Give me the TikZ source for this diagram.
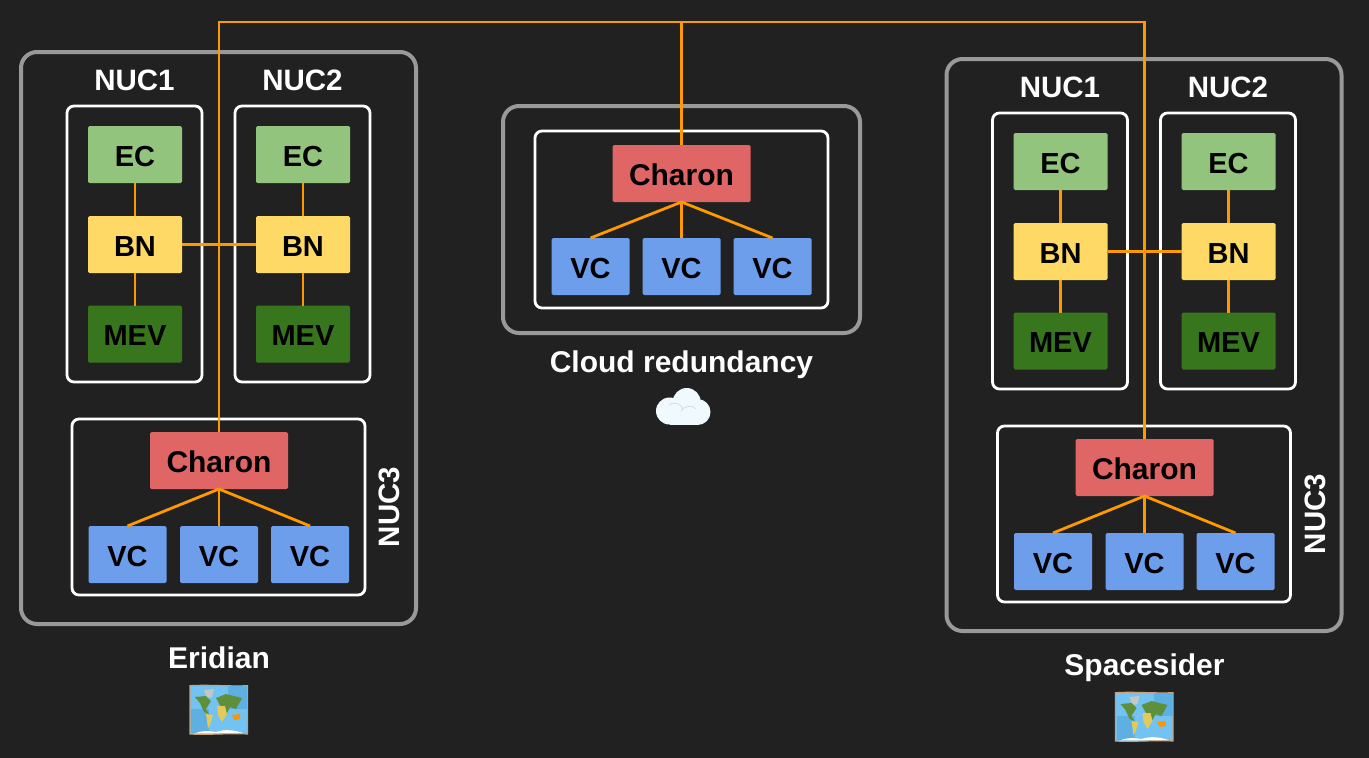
\documentclass[tikz,border=0pt]{standalone}
\usepackage{fontspec}
\setmainfont{Liberation Sans}
\usetikzlibrary{calc}
\definecolor{bgdark}{HTML}{212121}
\definecolor{wire}{HTML}{FF9900}
\definecolor{panelgray}{HTML}{999999}
\definecolor{ecgreen}{HTML}{93C47D}
\definecolor{bnyellow}{HTML}{FFD966}
\definecolor{mevgreen}{HTML}{38761D}
\definecolor{charonred}{HTML}{E06666}
\definecolor{vcblue}{HTML}{6D9EEB}
\definecolor{mapsky}{HTML}{72C2F2}
\definecolor{mapfold}{HTML}{5FB0E2}
\definecolor{mapedge}{HTML}{C8A27E}
\definecolor{mapland}{HTML}{5E8F3A}
\definecolor{mapsand}{HTML}{E3C95A}
\tikzset{
    block/.style={rounded corners=1.5pt, inner sep=0pt, outer sep=0pt, text=black, text height=23pt, text depth=0pt, font=\bfseries\fontsize{29}{29}\selectfont},
    ecnode/.style={block, fill=ecgreen, minimum width=94pt, minimum height=57pt},
    bnnode/.style={block, fill=bnyellow, minimum width=94pt, minimum height=57pt},
    mevnode/.style={block, fill=mevgreen, minimum width=94pt, minimum height=57pt},
    charonnode/.style={block, fill=charonred, minimum width=138pt, minimum height=57pt, font=\bfseries\fontsize{30}{30}\selectfont},
    vcnode/.style={block, fill=vcblue, minimum width=78pt, minimum height=57pt},
    panel/.style={draw=panelgray, line width=4pt, rounded corners=16pt, inner sep=0pt},
    nucbox/.style={draw=white, line width=2.8pt, rounded corners=7pt, inner sep=0pt},
    caption/.style={text=white, inner sep=0pt, text height=22.5pt, text depth=0pt, font=\bfseries\fontsize{30}{30}\selectfont},
    nuctitle/.style={caption, text height=21.5pt, font=\bfseries\fontsize{29.5}{30}\selectfont},
    wireline/.style={draw=wire, line width=2.8pt},
    mapicon/.pic={
        \fill[draw=mapedge, line width=1.2pt, fill=mapsky] (0,0.7) .. controls (19,-0.5) and (38,1.5) .. (57.5,0.7) -- (57.5,49) .. controls (38,48) and (19,50) .. (0,49) -- cycle;
        \fill[mapfold] (38,1) rectangle (57,24);
        \fill[mapfold] (1,24) rectangle (19,48);
        \fill[gray!45!white] (14,5) -- (24,4) -- (22,12) -- (17,13) -- cycle;
        \fill[mapland] (5,12) -- (16,11) -- (21,16) -- (16,24) -- (19,29) -- (14,27) -- (10,18) -- cycle;
        \fill[mapsand] (16,29) -- (23,30) -- (20,40) -- (18,43) -- cycle;
        \fill[mapland] (26,13) -- (36,9) -- (52,13) -- (46,24) -- (40,22) -- (37,28) -- (31,22) -- cycle;
        \fill[mapsand] (27,21) -- (35,21) -- (37,29) -- (32,37) -- (28,30) -- cycle;
        \fill[orange!85!yellow] (42,30) -- (50,29) -- (50,34) -- (44,35) -- cycle;
        \fill[white] (5,48.5) .. controls (12,45) and (20,46) .. (26,47) .. controls (35,44) and (44,45) .. (53,48) -- cycle;
    },
    cloudicon/.pic={
        \fill[white!94!cyan] (31.7,14) circle (14pt);
        \fill[white!94!cyan] (14.5,23) circle (13.5pt);
        \fill[white!94!cyan] (42.5,24) circle (13pt);
        \fill[white!94!cyan] (14.5,20) rectangle (42.5,37);
        \draw[gray!30!white, line width=0.8pt] (14,17) .. controls (20,13) and (26,16) .. (28,21);
        \draw[gray!30!white, line width=0.8pt] (26,23) .. controls (30,17) and (38,17) .. (41,21);
    }
}
\begin{document}
\begin{tikzpicture}[x=1pt, y=-1pt]
    \fill[bgdark] (0,0) rectangle (1369,758);
    \useasboundingbox (0,0) rectangle (1369,758);
    % the two sites
    \foreach \s/\dx/\dy/\sitename in {E/0/0/Eridian, S/925.5/7/Spacesider} {
        \begin{scope}[shift={(\dx,\dy)}]
            \node[panel, minimum width=395pt, minimum height=572pt] (panel\s) at (218.5,338) {};
            \node[nucbox, minimum width=135pt, minimum height=276pt] (nucA\s) at (134.5,244) {};
            \node[nucbox, minimum width=135pt, minimum height=276pt] (nucB\s) at (302.5,244) {};
            \node[nucbox, minimum width=293pt, minimum height=176pt] (nucC\s) at (218.5,507) {};
            \node[nuctitle] (titleA\s) at (134.5,80) {NUC1};
            \node[nuctitle] (titleB\s) at (302.5,80) {NUC2};
            \node[nuctitle, rotate=90] (titleC\s) at (389,507) {NUC3};
            \node[ecnode] (ecA\s) at (135,154.5) {EC};
            \node[bnnode] (bnA\s) at (135,244.5) {BN};
            \node[mevnode] (mevA\s) at (135,334) {MEV};
            \node[ecnode] (ecB\s) at (303,154.5) {EC};
            \node[bnnode] (bnB\s) at (303,244.5) {BN};
            \node[mevnode] (mevB\s) at (303,334) {MEV};
            \node[charonnode] (charon\s) at (219,460.5) {Charon};
            \node[vcnode] (vcA\s) at (127.5,554.5) {VC};
            \node[vcnode] (vcB\s) at (219,554.5) {VC};
            \node[vcnode] (vcC\s) at (310,554.5) {VC};
            \node[caption] (site\s) at (219,657) {\sitename};
            \pic at (190,685) {mapicon};
        \end{scope}
        \draw[wireline] (ecA\s) -- (bnA\s) -- (mevA\s);
        \draw[wireline] (ecB\s) -- (bnB\s) -- (mevB\s);
        \draw[wireline] (bnA\s) -- (bnB\s);
        \draw[wireline] (vcA\s.north) -- (charon\s.south) -- (vcC\s.north);
        \draw[wireline] (charon\s.south) -- (vcB\s.north);
    }
    % cloud in the middle
    \node[panel, minimum width=357pt, minimum height=227pt] (panelC) at (681.5,219.5) {};
    \node[nucbox, minimum width=293pt, minimum height=177pt] (nucCloud) at (681.5,219.5) {};
    \node[charonnode] (charonC) at (681.5,173.5) {Charon};
    \node[vcnode] (vcAC) at (590.5,266.5) {VC};
    \node[vcnode] (vcBC) at (681.5,266.5) {VC};
    \node[vcnode] (vcCC) at (772.5,266.5) {VC};
    \node[caption] (siteC) at (681.5,361.5) {Cloud redundancy};
    \pic at (655,388) {cloudicon};
    \draw[wireline] (vcAC.north) -- (charonC.south) -- (vcCC.north);
    \draw[wireline] (charonC.south) -- (vcBC.north);
    % orange bus on top
    \coordinate (bus) at (681.5,22);
    \draw[wireline, line join=miter] (charonE.north) -- (charonE.north |- bus) -- (charonS.north |- bus) -- (charonS.north);
    \draw[wireline] (charonC.north) -- (bus);
\end{tikzpicture}
\end{document}
